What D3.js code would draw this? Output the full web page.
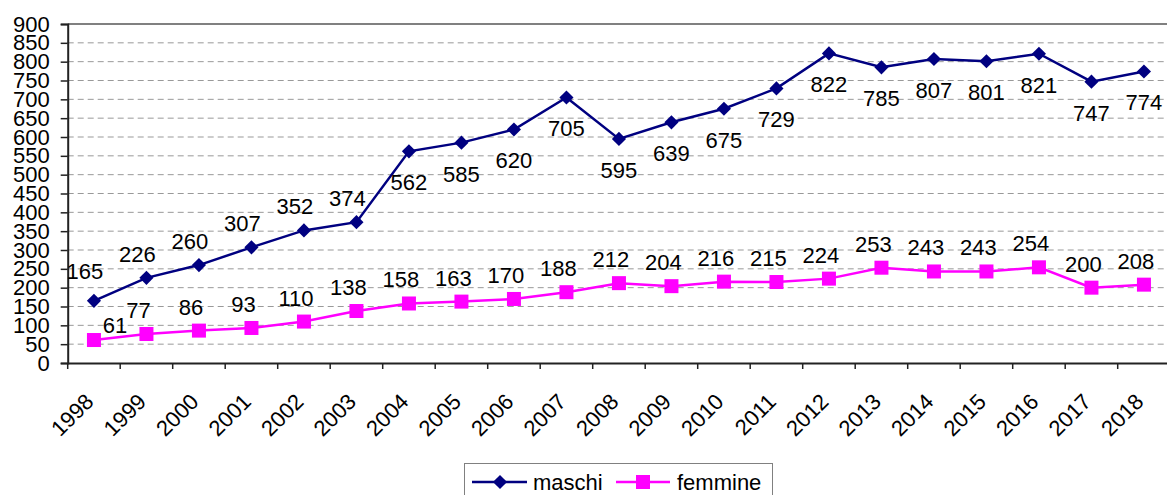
<!DOCTYPE html>
<html>
<head>
<meta charset="utf-8">
<script src="https://cdn.jsdelivr.net/npm/d3@7"></script>
<style>
  body { margin: 0; background: #fff; }
  text { font-family: "Liberation Sans", Arial, sans-serif; fill: #000; }
</style>
</head>
<body>
<script>
// data
let years = ["1998","1999","2000","2001","2002","2003","2004","2005","2006","2007","2008",
             "2009","2010","2011","2012","2013","2014","2015","2016","2017","2018"];
let maschi = [165,226,260,307,352,374,562,585,620,705,595,639,675,729,822,785,807,801,821,747,774];
let femmine = [61,77,86,93,110,138,158,163,170,188,212,204,216,215,224,253,243,243,254,200,208];
let yTicks = d3.range(0, 901, 50);

let W = 1167, H = 495;
let plotLeft = 67.7, plotRight = 1170.2, plotTop = 24, plotBottom = 363;
let fs = "22px";

let svg = d3.select("body")
            .append("svg")
            .attr("width", W)
            .attr("height", H);

let x = d3.scaleBand().domain(years).range([plotLeft, plotRight]);
let y = d3.scaleLinear().domain([0, 900]).range([plotBottom, plotTop]);
let cx = d => x(d) + x.bandwidth() / 2;

// grid lines
svg.selectAll("line.grid")
   .data(yTicks.filter(d => d > 0 && d < 900))
   .enter()
   .append("line")
   .attr("class", "grid")
   .attr("x1", plotLeft).attr("x2", plotRight)
   .attr("y1", d => y(d)).attr("y2", d => y(d))
   .style("stroke", "#999")
   .style("stroke-width", 1)
   .style("stroke-dasharray", "6,4");

// top border
svg.append("line")
   .attr("x1", plotLeft).attr("x2", plotRight)
   .attr("y1", y(900)).attr("y2", y(900))
   .style("stroke", "#808080")
   .style("stroke-width", 2);

// y axis
let yAxis = svg.append("g")
   .attr("transform", `translate(${plotLeft},0)`)
   .call(d3.axisLeft(y).tickValues(yTicks).tickSize(7).tickPadding(11));
yAxis.select(".domain").style("stroke", "#222").style("stroke-width", 2);
yAxis.selectAll(".tick line").style("stroke", "#222").style("stroke-width", 1.5);
yAxis.selectAll("text").style("font-size", fs).style("font-family", "Liberation Sans, Arial, sans-serif");

// x axis
let xAxis = svg.append("g")
   .attr("transform", `translate(0,${plotBottom})`)
   .call(d3.axisBottom(x).tickSize(0).tickFormat(""));
xAxis.select(".domain").style("stroke", "#222").style("stroke-width", 2);

svg.selectAll("line.xtick")
   .data(years.concat(["end"]))
   .enter()
   .append("line")
   .attr("class", "xtick")
   .attr("x1", (d, i) => plotLeft + i * x.bandwidth())
   .attr("x2", (d, i) => plotLeft + i * x.bandwidth())
   .attr("y1", plotBottom).attr("y2", plotBottom + 6)
   .style("stroke", "#222")
   .style("stroke-width", 1.5);

svg.selectAll("text.xlab")
   .data(years)
   .enter()
   .append("text")
   .attr("class", "xlab")
   .attr("transform", d => `translate(${cx(d) + 1},${plotBottom + 40}) rotate(-45)`)
   .attr("text-anchor", "end")
   .style("font-size", fs)
   .text(d => d);

// lines
let line = d3.line().x((d, i) => cx(years[i])).y(d => y(d));

svg.append("path")
   .datum(maschi)
   .attr("d", line)
   .style("fill", "none")
   .style("stroke", "#000080")
   .style("stroke-width", 2.5);

svg.append("path")
   .datum(femmine)
   .attr("d", line)
   .style("fill", "none")
   .style("stroke", "#ff00ff")
   .style("stroke-width", 2.5);

// markers
let diamond = d3.symbol().type(d3.symbolSquare).size(100);
svg.selectAll("path.dm")
   .data(maschi)
   .enter()
   .append("path")
   .attr("class", "dm")
   .attr("d", diamond)
   .attr("transform", (d, i) => `translate(${cx(years[i])},${y(d)}) rotate(45)`)
   .style("fill", "#000080");

svg.selectAll("rect.sq")
   .data(femmine)
   .enter()
   .append("rect")
   .attr("class", "sq")
   .attr("x", (d, i) => cx(years[i]) - 7)
   .attr("y", d => y(d) - 7)
   .attr("width", 14)
   .attr("height", 14)
   .style("fill", "#ff00ff");

// data labels: maschi above until 2003, below afterwards
svg.selectAll("text.lm")
   .data(maschi)
   .enter()
   .append("text")
   .attr("class", "lm")
   .attr("x", (d, i) => cx(years[i]) + (i < 6 ? -9 : 0))
   .attr("y", (d, i) => y(d) + (i == 0 ? -22 : i < 6 ? -16 : 39))
   .attr("text-anchor", "middle")
   .style("font-size", fs)
   .text(d => d);

svg.selectAll("text.lf")
   .data(femmine)
   .enter()
   .append("text")
   .attr("class", "lf")
   .attr("x", (d, i) => cx(years[i]) + (i == 0 ? 21 : -8))
   .attr("y", (d, i) => y(d) + (i == 0 ? -7 : -16))
   .attr("text-anchor", "middle")
   .style("font-size", fs)
   .text(d => d);

// legend
let lg = svg.append("g");
lg.append("rect")
  .attr("x", 464.5).attr("y", 463.5)
  .attr("width", 308).attr("height", 40)
  .style("fill", "#fff")
  .style("stroke", "#808080")
  .style("stroke-width", 1);

lg.append("line").attr("x1", 472).attr("x2", 527).attr("y1", 482).attr("y2", 482)
  .style("stroke", "#000080").style("stroke-width", 2.5);
lg.append("path").attr("d", diamond).attr("transform", "translate(500,482) rotate(45)")
  .style("fill", "#000080");
lg.append("text").attr("x", 533).attr("y", 490).style("font-size", fs).text("maschi");

lg.append("line").attr("x1", 616).attr("x2", 670).attr("y1", 482).attr("y2", 482)
  .style("stroke", "#ff00ff").style("stroke-width", 2.5);
lg.append("rect").attr("x", 636).attr("y", 475).attr("width", 14).attr("height", 14)
  .style("fill", "#ff00ff");
lg.append("text").attr("x", 677).attr("y", 490).style("font-size", fs).text("femmine");
</script>
</body>
</html>
